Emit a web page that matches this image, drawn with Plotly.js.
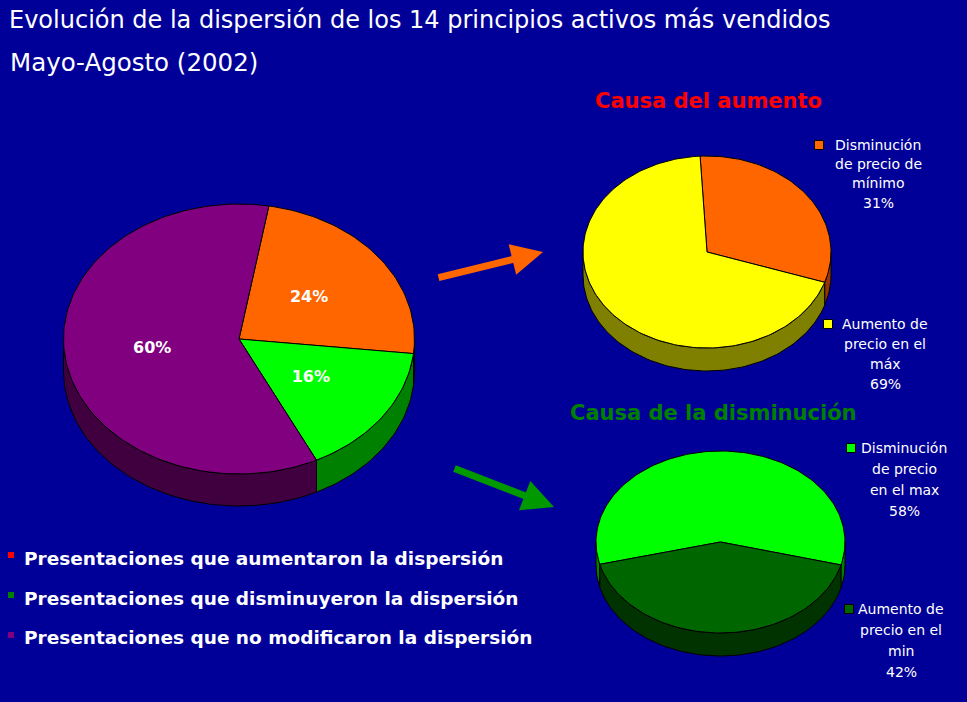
<!DOCTYPE html>
<html>
<head>
<meta charset="utf-8">
<script src="https://cdn.plot.ly/plotly-3.0.1.min.js"></script>
<style>html,body{margin:0;padding:0;background:#000099;}#chart{width:967px;height:702px;}</style>
</head>
<body>
<div id="chart"></div>
<script>
// ---------- DATA ----------
const mainLabels = ['Presentaciones que aumentaron la dispersión',
                    'Presentaciones que disminuyeron la dispersión',
                    'Presentaciones que no modificaron la dispersión'];
const mainValues = [24, 16, 60];
const upTitle = 'Causa del aumento';
const upLabels = ['Disminución<br>de precio de<br>mínimo', 'Aumento de<br>precio en el<br>máx'];
const upValues = [31, 69];
const downTitle = 'Causa de la disminución';
const downLabels = ['Disminución<br>de precio<br>en el max', 'Aumento de<br>precio en el<br>min'];
const downValues = [58, 42];
const titleLine1 = 'Evolución de la dispersión de los 14 principios activos más vendidos';
const titleLine2 = 'Mayo-Agosto (2002)';

// ---------- STYLE / LAYOUT CONFIG ----------
const BG = '#000099';
const FONT = 'DejaVu Sans, Verdana, sans-serif';
const mainTop = ['#FF6600', '#00FF00', '#800080'];
const mainSide = ['#803300', '#008000', '#400040'];
const bulletColors = ['#FF0000', '#008000', '#800080'];
const upTop = ['#FF6600', '#FFFF00'];
const upSide = ['#993300', '#808000'];
const downTop = ['#00FF00', '#006600'];
const downSide = ['#008000', '#003300'];

const pies = [
  {values: mainValues, top: mainTop, side: mainSide, cx: 239, cy: 339, rx: 175.5, ry: 135, depth: 32, start: 9.8},
  {values: upValues, top: upTop, side: upSide, cx: 707, cy: 252, rx: 124, ry: 96, depth: 23, start: -3.2},
  {values: downValues, top: downTop, side: downSide, cx: 720.5, cy: 542, rx: 124.5, ry: 91, depth: 23, start: 255.8}
];

const rad = d => d * Math.PI / 180;
function arc(p, t0, t1, dy) {
  const n = Math.max(2, Math.ceil(Math.abs(t1 - t0) / 1.5));
  const xs = [], ys = [];
  for (let i = 0; i <= n; i++) {
    const t = t0 + (t1 - t0) * i / n;
    xs.push(p.cx + p.rx * Math.sin(rad(t)));
    ys.push(p.cy - p.ry * Math.cos(rad(t)) + dy);
  }
  return [xs, ys];
}

const sideTraces = [], topTraces = [];
pies.forEach(p => {
  const total = p.values.reduce((a, b) => a + b, 0);
  let a = p.start;
  p.slices = [];
  p.values.forEach((v, i) => {
    const b = a + 360 * v / total;
    p.slices.push([a, b]);
    // side walls: visible front half (90..270 deg)
    for (let k = -1; k <= 2; k++) {
      const s = Math.max(a, 90 + 360 * k), e = Math.min(b, 270 + 360 * k);
      if (e > s) {
        const [tx, ty] = arc(p, s, e, 0);
        const [bx, by] = arc(p, e, s, p.depth);
        sideTraces.push({type: 'scatter', mode: 'lines', x: tx.concat(bx, [tx[0]]), y: ty.concat(by, [ty[0]]),
          fill: 'toself', fillcolor: p.side[i], line: {color: '#000000', width: 1}, hoverinfo: 'skip', showlegend: false});
      }
    }
    const [ax, ay] = arc(p, a, b, 0);
    topTraces.push({type: 'scatter', mode: 'lines', x: [p.cx].concat(ax, [p.cx]), y: [p.cy].concat(ay, [p.cy]),
      fill: 'toself', fillcolor: p.top[i], line: {color: '#000000', width: 1}, hoverinfo: 'skip', showlegend: false});
    a = b;
  });
});

// main pie percentage labels
const mp = pies[0];
const lblX = [], lblY = [], lblT = [];
mp.slices.forEach((s, i) => {
  const m = (s[0] + s[1]) / 2;
  lblX.push(mp.cx + 0.5 * mp.rx * Math.sin(rad(m)));
  lblY.push(mp.cy - 0.5 * mp.ry * Math.cos(rad(m)));
  lblT.push(mainValues[i] + '%');
});
const labelTrace = {type: 'scatter', mode: 'text', x: lblX, y: lblY, text: lblT,
  textfont: {family: FONT, size: 16, color: '#FFFFFF', weight: 'bold'}, hoverinfo: 'skip', showlegend: false};

// legend squares for small pies
const sqPos = [[819, 145], [828, 324], [851, 448], [849, 609]];
const sqColors = upTop.concat(downTop);
const sqTrace = {type: 'scatter', mode: 'markers', x: sqPos.map(p => p[0]), y: sqPos.map(p => p[1]),
  marker: {symbol: 'square', size: 9, color: sqColors, line: {color: '#000000', width: 1}}, hoverinfo: 'skip', showlegend: false};
// bullets for main legend
const bulPos = [[11, 555], [11, 595], [11, 635]];
const bulTrace = {type: 'scatter', mode: 'markers', x: bulPos.map(p => p[0]), y: bulPos.map(p => p[1]),
  marker: {symbol: 'square', size: 6, color: bulletColors}, hoverinfo: 'skip', showlegend: false};

const annotations = [];
annotations.push({xref: 'x', yref: 'y', x: 8, y: 62, xanchor: 'left', yanchor: 'middle', showarrow: false,
  text: titleLine2, font: {family: FONT, size: 24.5, color: '#FFFFFF'}});
// main legend text
const mainLegY = [558, 598, 637];
mainLabels.forEach((t, i) => annotations.push({xref: 'x', yref: 'y', x: 22, y: mainLegY[i], xanchor: 'left', yanchor: 'middle',
  showarrow: false, text: t, font: {family: FONT, size: 18.5, color: '#FFFFFF', weight: 'bold'}}));
// small pie titles
annotations.push({xref: 'x', yref: 'y', x: 708, y: 101, xanchor: 'center', yanchor: 'middle', showarrow: false,
  text: upTitle, font: {family: FONT, size: 21, color: '#FF0000', weight: 'bold'}});
annotations.push({xref: 'x', yref: 'y', x: 713, y: 413, xanchor: 'center', yanchor: 'middle', showarrow: false,
  text: downTitle, font: {family: FONT, size: 21, color: '#008000', weight: 'bold'}});
// small pie legend entries (one annotation per line)
const legStart = [[878, 145, 19.2], [885, 324, 20], [904, 448, 21], [901, 609, 21]];
const legTexts = upLabels.map((l, i) => l + '<br>' + upValues[i] + '%').concat(downLabels.map((l, i) => l + '<br>' + downValues[i] + '%'));
legTexts.forEach((t, i) => {
  t.split('<br>').forEach((line, j) => annotations.push({xref: 'x', yref: 'y', x: legStart[i][0], y: legStart[i][1] + j * legStart[i][2],
    xanchor: 'center', yanchor: 'middle', showarrow: false, text: line, font: {family: FONT, size: 14, color: '#FFFFFF'}}));
});
// arrows
annotations.push({xref: 'x', yref: 'y', axref: 'x', ayref: 'y', x: 543, y: 252, ax: 437, ay: 278, text: '', showarrow: true,
  arrowhead: 2, arrowsize: 0.9, arrowwidth: 7, arrowcolor: '#FF6600', standoff: 0});
annotations.push({xref: 'x', yref: 'y', axref: 'x', ayref: 'y', x: 554, y: 507, ax: 453, ay: 468, text: '', showarrow: true,
  arrowhead: 2, arrowsize: 0.9, arrowwidth: 7, arrowcolor: '#009900', standoff: 0});

const layout = {
  width: 967, height: 702,
  paper_bgcolor: BG, plot_bgcolor: BG,
  margin: {l: 0, r: 0, t: 0, b: 0},
  title: {text: titleLine1, x: 9 / 967, xanchor: 'left', xref: 'container', y: 1 - 20 / 702, yanchor: 'middle', yref: 'container',
    font: {family: FONT, size: 24, color: '#FFFFFF'}},
  xaxis: {range: [0, 967], visible: false, fixedrange: true},
  yaxis: {range: [702, 0], visible: false, fixedrange: true},
  showlegend: false,
  hovermode: false,
  annotations: annotations
};

Plotly.newPlot('chart', sideTraces.concat(topTraces, [labelTrace, sqTrace, bulTrace]), layout, {displayModeBar: false, staticPlot: true});
</script>
</body>
</html>
